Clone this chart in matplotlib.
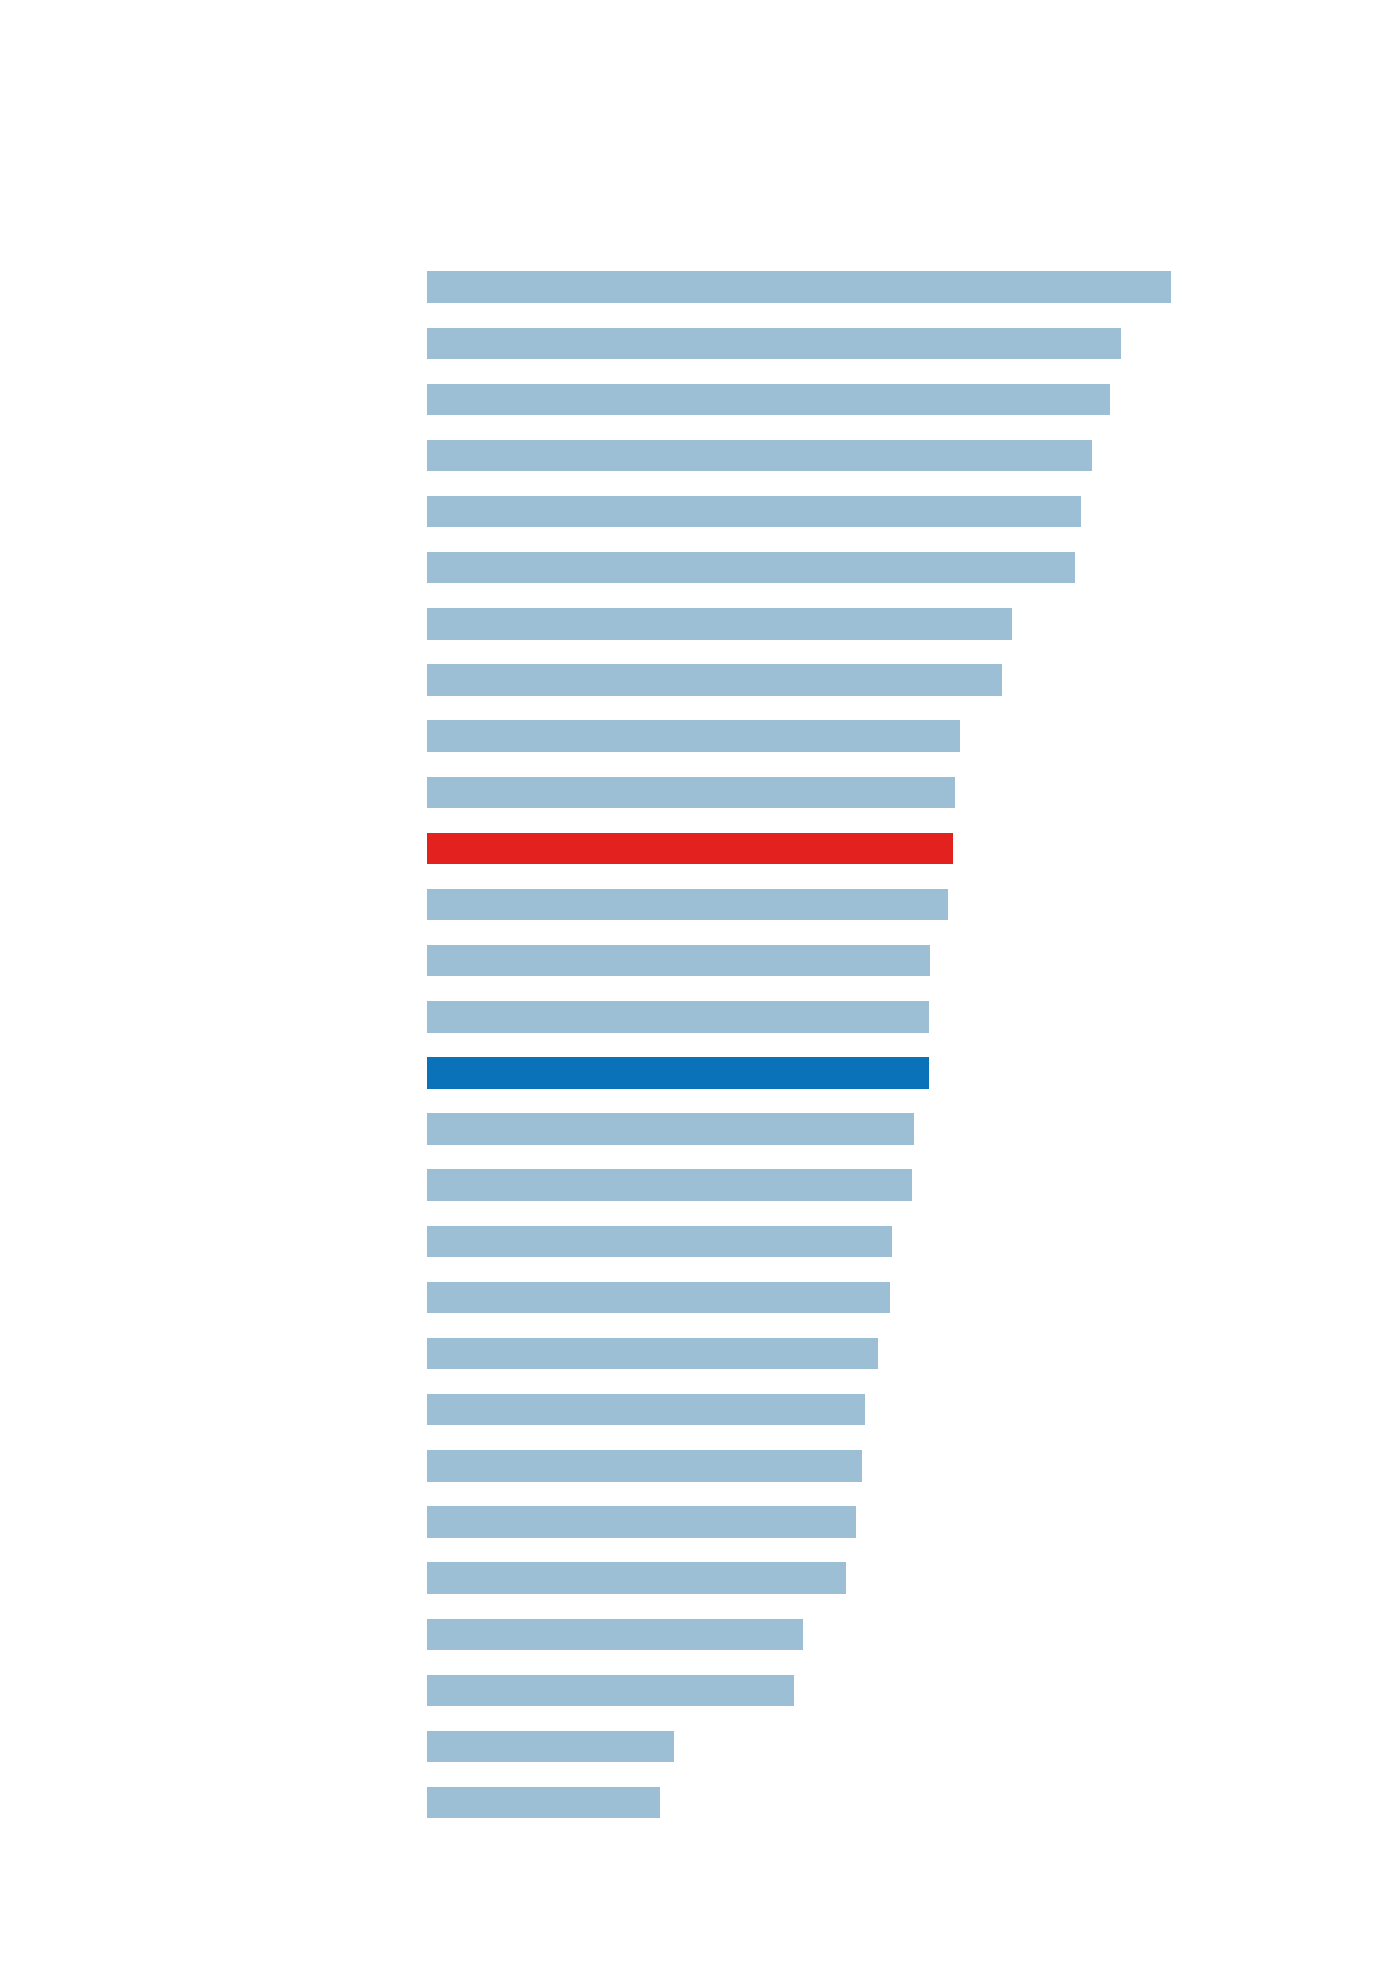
import matplotlib
matplotlib.use("Agg")
import matplotlib.pyplot as plt

# Bar lengths (arbitrary units), top to bottom
values = [592, 552, 543, 529, 520, 515, 465, 457, 424, 420, 418, 414, 400, 399,
          399, 387, 386, 370, 368, 359, 348, 346, 341, 333, 299, 292, 196, 185]
highlight_red = 10
highlight_blue = 14

base_color = "#9DBFD5"
red_color = "#E32220"
blue_color = "#0A72B8"

colors = [base_color] * len(values)
colors[highlight_red] = red_color
colors[highlight_blue] = blue_color

fig = plt.figure(figsize=(14, 19.7), dpi=100, facecolor="white")
ax = fig.add_axes([0.3052, 0.0707, 0.6284, 0.7978])
positions = list(range(len(values)))
ax.barh(positions, values, height=0.56, color=colors, linewidth=0)
ax.set_xlim(0, 700)
ax.set_ylim(len(values) - 0.5, -0.5)
ax.axis("off")

fig.savefig("out.png", dpi=100, facecolor="white")
